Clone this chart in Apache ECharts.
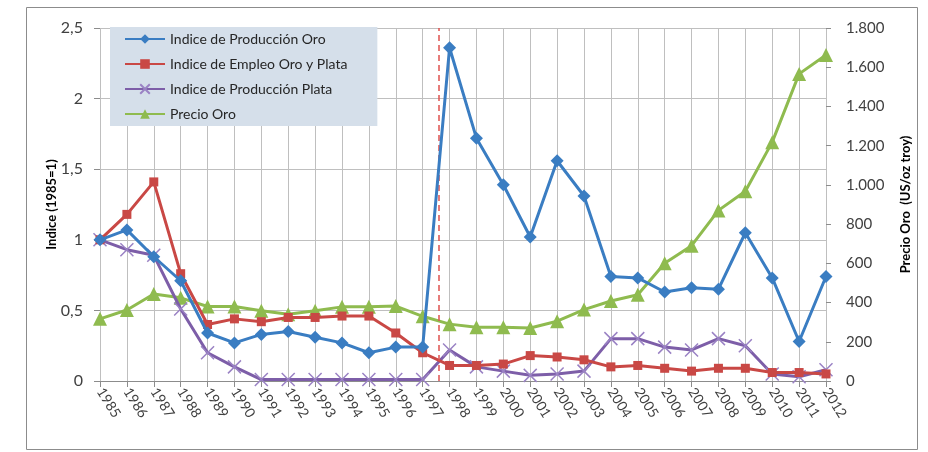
<!DOCTYPE html>
<html>
<head>
<meta charset="utf-8">
<script src="https://cdn.jsdelivr.net/npm/echarts@6/dist/echarts.min.js"></script>
<style>
html,body{margin:0;padding:0;background:#fff;}
#c{width:928px;height:452px;}
</style>
</head>
<body>
<div id="c"></div>
<script>
const years = [1985,1986,1987,1988,1989,1990,1991,1992,1993,1994,1995,1996,1997,1998,1999,2000,2001,2002,2003,2004,2005,2006,2007,2008,2009,2010,2011,2012];
const prodOro = [1.00,1.07,0.88,0.71,0.34,0.27,0.33,0.35,0.31,0.27,0.20,0.24,0.24,2.36,1.72,1.39,1.02,1.56,1.31,0.74,0.73,0.63,0.66,0.65,1.05,0.73,0.28,0.74];
const empleo = [1.00,1.18,1.41,0.76,0.40,0.44,0.42,0.45,0.45,0.46,0.46,0.34,0.20,0.11,0.11,0.12,0.18,0.17,0.15,0.10,0.11,0.09,0.07,0.09,0.09,0.06,0.06,0.05];
const prodPlata = [1.00,0.93,0.89,0.51,0.20,0.10,0.01,0.01,0.01,0.01,0.01,0.01,0.01,0.22,0.10,0.07,0.04,0.05,0.07,0.30,0.30,0.24,0.22,0.30,0.25,0.05,0.03,0.08];
const precioOro = [317,362,444,424,380,380,358,340,358,378,378,382,330,290,274,274,270,305,364,408,440,600,690,870,968,1218,1566,1662];
const cutYear = 1997.6;
const leftTicks = {min:0,max:2.5,interval:0.5};
const rightTicks = {min:0,max:1800,interval:200};

const pairs = arr => arr.map((v,i)=>[years[i],v]);
const font = 'Lato, "Liberation Sans", sans-serif';
const xShape = 'path://M0,0L10,10M10,0L0,10';

const chart = echarts.init(document.getElementById('c'),null,{renderer:'canvas'});
chart.setOption({
  animation:false,
  textStyle:{fontFamily:font},
  graphic:[{type:'rect',shape:{x:26.5,y:7.5,width:891,height:442},style:{fill:'none',stroke:'#8c8c8c',lineWidth:1},silent:true,z:-10}],
  grid:{left:100,right:102,top:28,bottom:71,containLabel:false},
  legend:{
    orient:'vertical',left:110,top:27,
    backgroundColor:'#d5dfea',
    padding:[5,30,5,14],
    itemWidth:40,itemHeight:12,itemGap:11,
    textStyle:{fontFamily:font,fontSize:14,color:'#262626'},
    data:['Indice de Producción Oro','Indice de Empleo Oro y Plata','Indice de Producción Plata','Precio Oro']
  },
  xAxis:{
    type:'value',min:years[0],max:years[years.length-1],interval:1,
    axisLine:{show:true,lineStyle:{color:'#8c8c8c',width:1}},
    axisTick:{show:true,length:6,lineStyle:{color:'#8c8c8c'}},
    splitLine:{show:true,lineStyle:{color:'#bfbfbf',width:1}},
    axisLabel:{rotate:-58,fontSize:14,color:'#404040',margin:8,formatter:v=>String(v)}
  },
  yAxis:[{
    type:'value',position:'left',min:leftTicks.min,max:leftTicks.max,interval:leftTicks.interval,
    name:'Indice (1985=1)',nameLocation:'middle',nameRotate:90,nameGap:42,nameMoveOverlap:false,
    nameTextStyle:{fontWeight:'bold',fontSize:13,color:'#000'},
    axisLine:{show:false},
    axisTick:{show:true,length:6,lineStyle:{color:'#8c8c8c'}},
    splitLine:{show:true,lineStyle:{color:'#bfbfbf',width:1}},
    axisLabel:{fontSize:16,color:'#404040',margin:17,formatter:v=>String(v).replace('.',',')}
  },{
    type:'value',position:'right',min:rightTicks.min,max:rightTicks.max,interval:rightTicks.interval,
    name:'Precio Oro  (US/oz troy)',nameLocation:'middle',nameRotate:90,nameGap:73,
    nameTextStyle:{fontWeight:'bold',fontSize:13,color:'#000'},
    axisLine:{show:false},
    axisTick:{show:true,length:5,lineStyle:{color:'#8c8c8c'}},
    splitLine:{show:false},
    axisLabel:{fontSize:15,color:'#404040',margin:20,formatter:v=>v>=1000?String(v).replace(/(\d)(\d{3})$/,'$1.$2'):String(v)}
  }],
  series:[
    {name:'Indice de Producción Oro',type:'line',yAxisIndex:0,data:pairs(prodOro),
     symbol:'diamond',symbolSize:13,lineStyle:{color:'#3a7dc2',width:3},itemStyle:{color:'#3a7dc2'},z:5,
     markLine:{silent:true,symbol:'none',label:{show:false},
       lineStyle:{color:'#e0524f',type:[6,4],width:1.5},
       data:[{xAxis:cutYear}]}},
    {name:'Indice de Empleo Oro y Plata',type:'line',yAxisIndex:0,data:pairs(empleo),
     symbol:'rect',symbolSize:9,lineStyle:{color:'#c94845',width:3},itemStyle:{color:'#c94845'},z:4},
    {name:'Indice de Producción Plata',type:'line',yAxisIndex:0,data:pairs(prodPlata),
     symbol:xShape,symbolSize:13,lineStyle:{color:'#7d5ea8',width:3},
     itemStyle:{color:'#7d5ea8',borderColor:'#9a82c4',borderWidth:1.5},z:3},
    {name:'Precio Oro',type:'line',yAxisIndex:1,data:pairs(precioOro),
     symbol:'triangle',symbolSize:14,lineStyle:{color:'#8fbb4f',width:3},itemStyle:{color:'#8fbb4f'},z:2}
  ]
});
</script>
</body>
</html>
